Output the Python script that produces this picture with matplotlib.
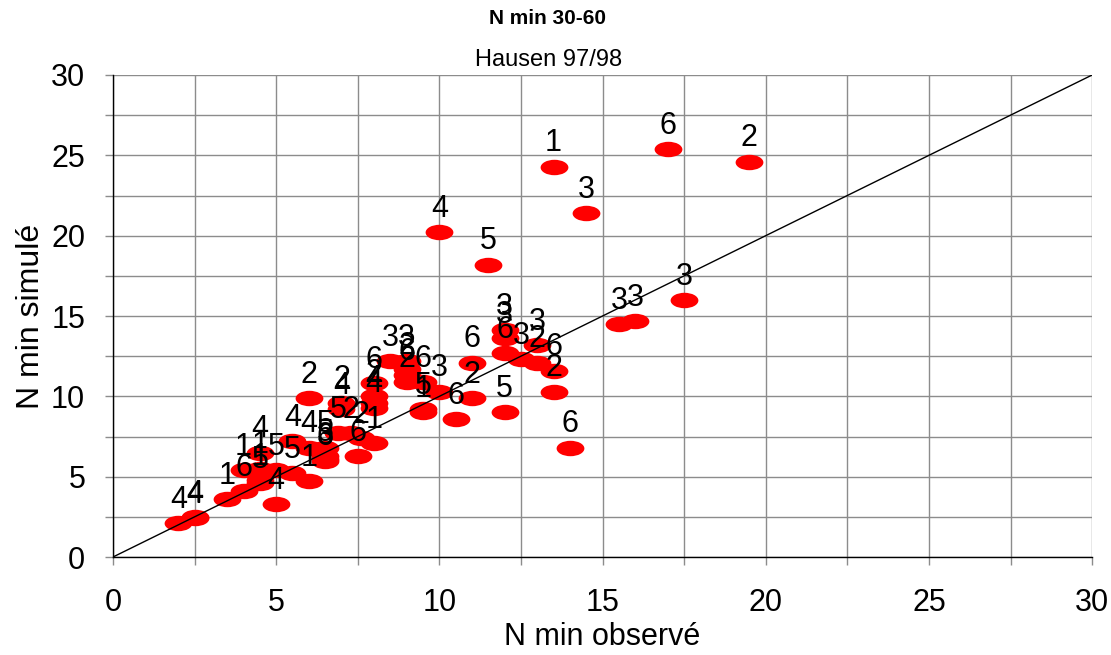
import matplotlib
matplotlib.use("Agg")
import matplotlib.pyplot as plt
import numpy as np
from matplotlib.path import Path
from matplotlib.transforms import Affine2D
from matplotlib.ticker import MultipleLocator

plt.rcParams['font.family'] = ['Liberation Sans', 'DejaVu Sans']

# observed values (x), simulated values (y), point labels
obs = [13.5, 17.0, 19.5, 14.5, 10.0, 11.5, 15.5, 16.0, 17.5, 14.0,
       11.0, 12.0, 12.0, 12.0, 12.5, 13.0, 13.0, 13.5, 13.5, 12.0, 10.5, 11.0, 10.0,
       8.5, 9.0, 9.0, 9.0, 9.0, 9.5, 9.5, 9.5, 8.0, 8.0, 8.0, 8.0, 8.0,
       6.0, 7.0, 7.0, 6.9, 7.3, 7.6,
       2.0, 2.5, 2.5, 3.5, 4.0, 4.5, 4.5, 4.0, 4.5, 4.5, 5.0, 5.0, 5.5, 6.0,
       5.5, 6.0, 6.5, 6.5, 6.5, 6.5, 7.5]
sim = [24.3, 25.4, 24.6, 21.4, 20.2, 18.2, 14.5, 14.7, 16.0, 6.8,
       12.1, 14.1, 13.6, 12.7, 12.3, 13.2, 12.1, 11.6, 10.3, 9.0, 8.6, 9.9, 10.3,
       12.2, 12.2, 11.7, 11.3, 10.9, 10.9, 9.2, 9.0, 10.8, 10.0, 9.6, 9.3, 7.1,
       9.9, 9.6, 9.2, 7.7, 7.7, 7.4,
       2.1, 2.5, 2.4, 3.6, 4.1, 4.6, 4.8, 5.4, 5.5, 6.5, 3.3, 5.4, 5.2, 4.7,
       7.2, 6.8, 6.8, 6.3, 6.1, 6.0, 6.3]
labels = ['1', '6', '2', '3', '4', '5', '3', '3', '3', '6',
          '6', '3', '3', '6', '3', '3', '2', '6', '2', '5', '6', '2', '3',
          '3', '3', '2', '6', '2', '6', '5', '1', '6', '2', '4', '4', '1',
          '2', '2', '4', '5', '2', '2',
          '4', '4', '4', '1', '6', '5', '1', '1', '1', '4', '4', '5', '5', '1',
          '4', '4', '5', '5', '3', '6', '6']
diag = [0, 30]

fig = plt.figure(figsize=(11.11, 6.55), dpi=100)
ax = fig.add_axes([0.1017, 0.1496, 0.8813, 0.7359])

ax.set_xlim(0, 30)
ax.set_ylim(0, 30)
ax.xaxis.set_major_locator(MultipleLocator(5))
ax.yaxis.set_major_locator(MultipleLocator(5))
ax.xaxis.set_minor_locator(MultipleLocator(2.5))
ax.yaxis.set_minor_locator(MultipleLocator(2.5))
ax.grid(True, which='both', color='#8c8c8c', linewidth=1.0, zorder=0)
ax.set_axisbelow(True)
for s in ['top', 'right']:
    ax.spines[s].set_visible(False)
for s in ['left', 'bottom']:
    ax.spines[s].set_color('black')
    ax.spines[s].set_linewidth(1.0)
ax.tick_params(which='both', direction='out', length=6, color='#8c8c8c', width=1)
ax.tick_params(axis='x', which='major', labelsize=22, pad=16)
ax.tick_params(axis='y', which='major', labelsize=22, pad=14)

ellipse = Path.unit_circle().transformed(Affine2D().scale(1.8, 1.0))
ax.plot(obs, sim, linestyle='none', marker=ellipse, markersize=20,
        markerfacecolor='#ff0000', markeredgecolor='#ff0000', markeredgewidth=0, zorder=2)
ax.plot(diag, diag, color='black', linewidth=1.0, zorder=3)

for x, y, t in zip(obs, sim, labels):
    ax.annotate(t, (x, y), xytext=(0, 11), textcoords='offset points',
                ha='center', va='baseline', fontsize=22, color='black', zorder=4,
                annotation_clip=False)

ax.set_xlabel('N min observé', fontsize=22, labelpad=3)
ax.set_ylabel('N min simulé', fontsize=23, labelpad=4)

fig.text(0.493, 0.972, 'N min 30-60', ha='center', va='center', fontsize=15, fontweight='bold')
fig.text(0.494, 0.908, 'Hausen 97/98', ha='center', va='center', fontsize=17)

fig.savefig('out.png', dpi=100)
